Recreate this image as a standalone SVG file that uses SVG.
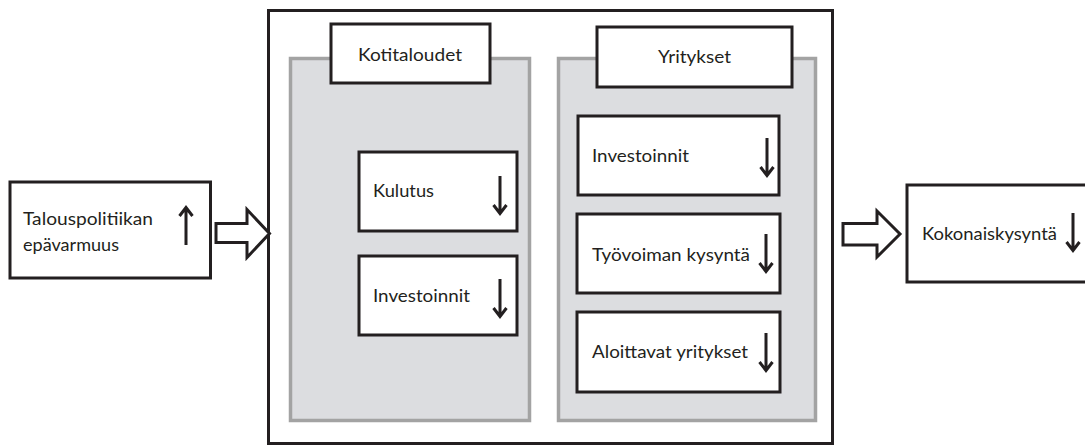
<svg xmlns="http://www.w3.org/2000/svg" width="1085" height="448" viewBox="0 0 1085 448">
<style>
.box{fill:#fff;stroke:#231f20;stroke-width:3}
.panel{fill:#dcdde0;stroke:#a3a3a3;stroke-width:3.5}
.hollow{fill:#fff;stroke:#231f20;stroke-width:3;stroke-linejoin:miter}
.t{font-family:Lato,"Open Sans","Liberation Sans",Arial,sans-serif;font-size:17.5px;fill:#231f20}
.ar{fill:none;stroke:#231f20;stroke-width:3;stroke-linecap:butt;stroke-linejoin:miter}
</style>
<defs>
<path id="down" d="M0,-19 V18 M-6.5,10 L0,18.5 L6.5,10" class="ar"/>
<path id="up" d="M0,20 V-17 M-6.5,-9 L0,-17.5 L6.5,-9" class="ar"/>
</defs>
<rect x="0" y="0" width="1085" height="448" fill="#fff"/>
<g id="outer"><rect class="box" x="268.5" y="10.5" width="564" height="433"/></g>
<g id="kotitaloudet-panel">
<rect class="panel" x="290.5" y="58.5" width="239" height="362"/>
</g>
<g id="yritykset-panel">
<rect class="panel" x="558.5" y="58.5" width="257" height="362"/>
</g>
<g id="kotitaloudet">
<rect class="box" x="331" y="24" width="159" height="59"/>
<text class="t" x="358" y="61" textLength="104" lengthAdjust="spacingAndGlyphs">Kotitaloudet</text>
</g>
<g id="yritykset">
<rect class="box" x="597" y="27" width="195" height="60"/>
<text class="t" x="658" y="63" textLength="73" lengthAdjust="spacingAndGlyphs">Yritykset</text>
</g>
<g id="talouspolitiikan">
<rect class="box" x="10" y="182" width="200.5" height="96"/>
<text class="t" x="23" y="225" textLength="130" lengthAdjust="spacingAndGlyphs">Talouspolitiikan</text>
<text class="t" x="23" y="251" textLength="96" lengthAdjust="spacingAndGlyphs">epävarmuus</text>
<use href="#up" x="186" y="225"/>
</g>
<g id="kulutus">
<rect class="box" x="359" y="152" width="158" height="79"/>
<text class="t" x="373" y="197" textLength="61" lengthAdjust="spacingAndGlyphs">Kulutus</text>
<use href="#down" x="500" y="195"/>
</g>
<g id="investoinnit-k">
<rect class="box" x="359" y="256" width="158" height="79"/>
<text class="t" x="373" y="302" textLength="97" lengthAdjust="spacingAndGlyphs">Investoinnit</text>
<use href="#down" x="500" y="298"/>
</g>
<g id="investoinnit-y">
<rect class="box" x="578" y="116" width="201" height="79"/>
<text class="t" x="592" y="162" textLength="97" lengthAdjust="spacingAndGlyphs">Investoinnit</text>
<use href="#down" x="767" y="157"/>
</g>
<g id="tyovoiman">
<rect class="box" x="577" y="214" width="203" height="79"/>
<text class="t" x="592" y="261" textLength="158" lengthAdjust="spacingAndGlyphs">Työvoiman kysyntä</text>
<use href="#down" x="766" y="253"/>
</g>
<g id="aloittavat">
<rect class="box" x="577" y="312" width="203" height="80"/>
<text class="t" x="592" y="358" textLength="156" lengthAdjust="spacingAndGlyphs">Aloittavat yritykset</text>
<use href="#down" x="766" y="352"/>
</g>
<g id="kokonaiskysynta">
<rect class="box" x="907" y="185" width="190" height="97"/>
<text class="t" x="922" y="240" textLength="135" lengthAdjust="spacingAndGlyphs">Kokonaiskysyntä</text>
<use href="#down" x="1073" y="232"/>
</g>
<g id="connectors">
<path class="hollow" d="M216,223.5 H247 V209.5 L269.5,233.5 L247,257.5 V242.5 H216 Z"/>
<path class="hollow" d="M843,223.5 H877 V211 L900,234 L877,257 V245 H843 Z"/>
</g>
</svg>
